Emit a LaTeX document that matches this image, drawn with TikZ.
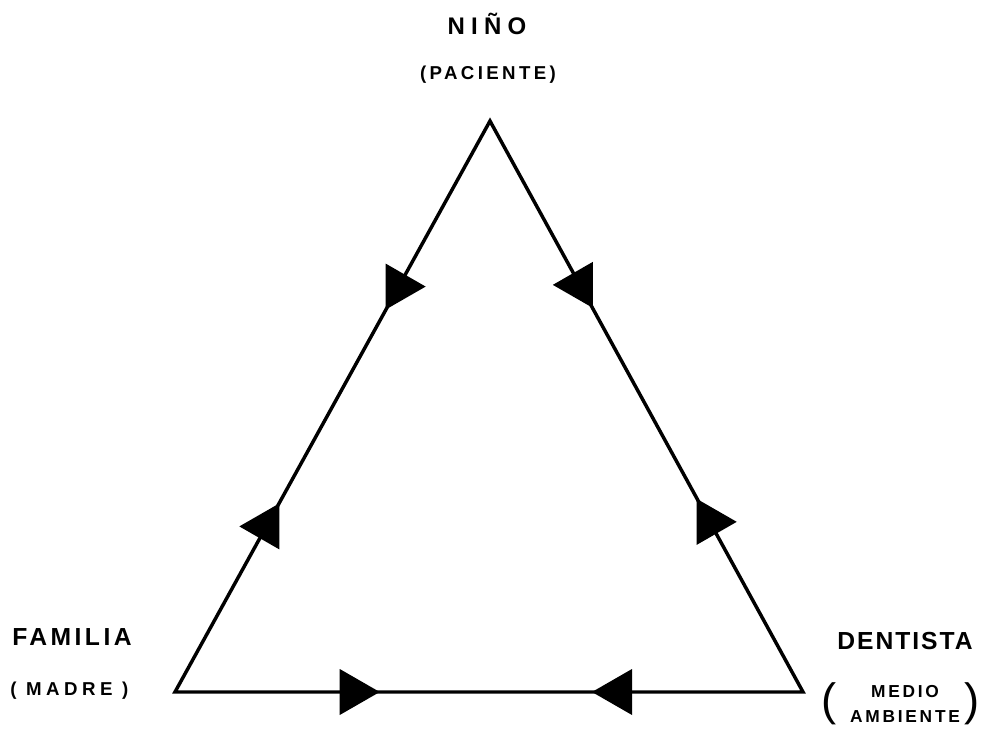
\documentclass[tikz,border=0pt]{standalone}
\usepackage{fontspec}
\setmainfont{Liberation Sans}
\usetikzlibrary{positioning}
\tikzset{
  rolename/.style = {inner sep=0pt, anchor=base,
                     font={\bfseries\fontsize{18.5}{22}\selectfont\addfontfeature{LetterSpace=14}}},
  rolenote/.style = {inner sep=0pt, anchor=base,
                     font={\bfseries\fontsize{14}{18.75}\selectfont\addfontfeature{LetterSpace=24}}},
  bigparen/.style = {inner sep=0pt, font={\fontsize{34}{34}\selectfont}},
  rel/.style      = {line width=2.6pt, line join=miter},
  pics/tipright/.style = {code={\fill (-13,-23) -- (27,0) -- (-13,23) -- cycle;}},
  pics/tipleft/.style  = {code={\fill (13,-23) -- (-27,0) -- (13,23) -- cycle;}},
}
\begin{document}
\begin{tikzpicture}[x=0.75pt,y=-0.75pt]
\useasboundingbox (0,0) rectangle (989,730);
% corners of the triangle
\coordinate (nino) at (490,121);
\coordinate (fam)  at (175,692);
\coordinate (dent) at (803,692);
% sides with the arrow heads
\draw[rel] (nino) -- pic[pos=.29]{tipright} pic[pos=.71]{tipleft} (fam)
  -- pic[pos=.283]{tipright} pic[pos=.707]{tipleft} (dent)
  -- pic[pos=.298]{tipright} pic[pos=.713]{tipleft} (nino) -- cycle;
% labels
\node[rolename,font={\bfseries\fontsize{18}{22}\selectfont\addfontfeature{LetterSpace=26}}] (ninolbl) at (487,35) {NIÑO};
\node[rolenote,font={\bfseries\fontsize{14}{18}\selectfont\addfontfeature{LetterSpace=18}}] (paclbl) at (488,80) {(PACIENTE)};
\node[rolename,anchor=base west] (famlbl) at (12,645) {FAMILIA};
\node[rolenote,anchor=base west] (madlbl) at (10,695) {( MADRE )};
\node[rolename,font={\bfseries\fontsize{18.5}{22}\selectfont\addfontfeature{LetterSpace=8}}] (dentlbl) at (905,649) {DENTISTA};
\node[rolenote,align=center,font={\bfseries\fontsize{13}{18.75}\selectfont\addfontfeature{LetterSpace=16}}] (medlbl) at (905,722) {MEDIO\\AMBIENTE};
\node[bigparen] (lpar) at (829,704) {(};
\node[bigparen] (rpar) at (972,704) {)};
\end{tikzpicture}
\end{document}
